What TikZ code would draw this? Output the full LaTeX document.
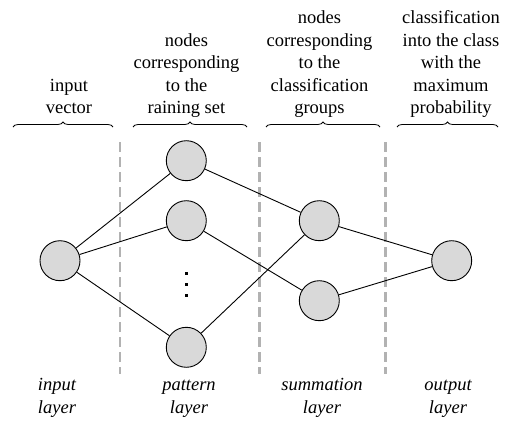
\documentclass[tikz,border=0pt]{standalone}
\usepackage{fontspec}
\setmainfont{Liberation Serif}
\usepackage{tikz}
\usetikzlibrary{decorations.pathreplacing}
\definecolor{nodegray}{RGB}{217, 217, 217}
\definecolor{dashgray}{RGB}{178, 178, 178}

\begin{document}
\begin{tikzpicture}[
    x=1pt, y=-1pt,
    neuron/.style={draw, fill=nodegray, circle, minimum size=40pt, inner sep=0pt, line width=0.9pt},
    link/.style={line width=0.9pt},
    divider/.style={dashgray, line width=2.6pt, dash pattern=on 9.5pt off 5.5pt},
    group_brace/.style={decorate, decoration={brace, amplitude=5pt}, line width=0.8pt},
    head_text/.style={font=\fontsize{18.5}{22.5}\selectfont, align=center, anchor=south, inner sep=0pt, text depth=5pt},
    layer_text/.style={font=\fontsize{18.5}{23.5}\selectfont\itshape, align=center, anchor=south, inner sep=0pt, text depth=5pt}
]
    \useasboundingbox (0,0) rectangle (507,423);

    % Dividers
    \draw[divider] (120,142) -- (120,374);
    \draw[divider] (259.3,142) -- (259.3,374);
    \draw[divider] (385.7,142) -- (385.7,374);

    % Input layer
    \node[neuron] (in) at (60,260.7) {};

    % Pattern layer
    \node[neuron] (pat1) at (186.3,160.7) {};
    \node[neuron] (pat2) at (186.3,220.7) {};
    \node[neuron] (patn) at (186.3,347.3) {};
    \foreach \y in {273.5, 284.7, 295.8}
        \fill ([shift={(-1.6,-1.6)}]186.3,\y) rectangle ++(3.2,3.2);

    % Summation layer
    \node[neuron] (sum1) at (319.3,220.7) {};
    \node[neuron] (sum2) at (319.3,300.7) {};

    % Output layer
    \node[neuron] (out) at (451.7,260.7) {};

    % Connections
    \draw[link] (in) -- (pat1);
    \draw[link] (in) -- (pat2);
    \draw[link] (in) -- (patn);
    \draw[link] (pat1) -- (sum1);
    \draw[link] (pat2) -- (sum2);
    \draw[link] (patn) -- (sum1);
    \draw[link] (sum1) -- (out);
    \draw[link] (sum2) -- (out);

    % Braces
    \draw[group_brace] (13,127) -- (113,127);
    \draw[group_brace] (133,127) -- (247,127);
    \draw[group_brace] (266,127) -- (380,127);
    \draw[group_brace] (397,127) -- (498,127);

    % Descriptions
    \node[head_text] (desc_in) at (69,119) {input\\vector};
    \node[head_text] (desc_pat) at (186.5,119) {nodes\\corresponding\\to the\\raining set};
    \node[head_text] (desc_sum) at (319.5,119) {nodes\\corresponding\\to the\\classification\\groups};
    \node[head_text] (desc_out) at (451,119) {classification\\into the class\\with the\\maximum\\probability};

    % Layer names
    \node[layer_text] (lay_in) at (57,419) {input\\layer};
    \node[layer_text] (lay_pat) at (189,419) {pattern\\layer};
    \node[layer_text] (lay_sum) at (322,419) {summation\\layer};
    \node[layer_text] (lay_out) at (448,419) {output\\layer};
\end{tikzpicture}
\end{document}
